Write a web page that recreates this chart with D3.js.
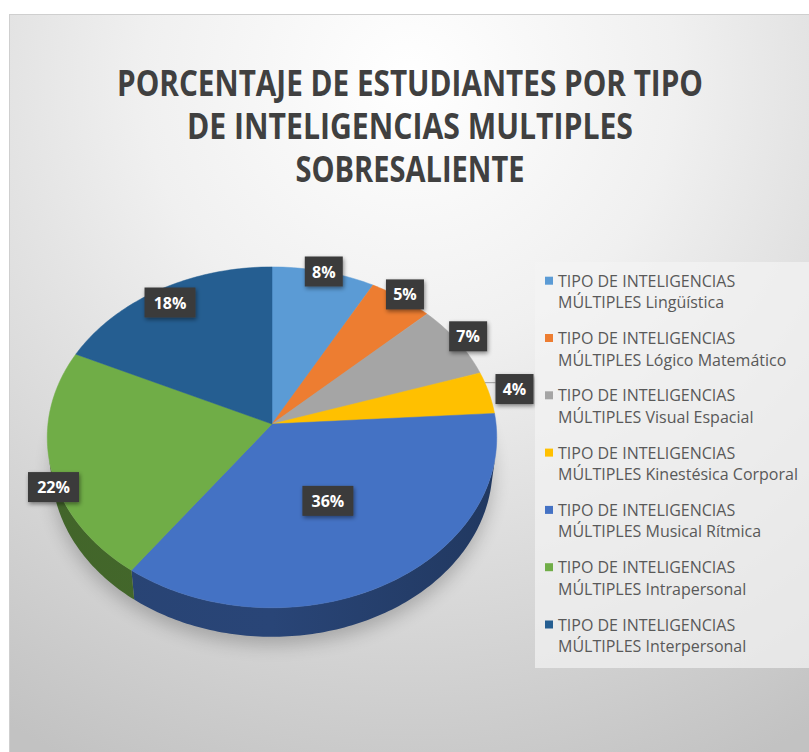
<!DOCTYPE html>
<html>
<head>
<meta charset="utf-8">
<script src="https://cdn.jsdelivr.net/npm/d3@7"></script>
<style>
  html, body { margin: 0; padding: 0; background: #fff; }
  svg { display: block; }
</style>
</head>
<body>
<svg id="svg"></svg>
<script>
// ---- data ----
const titleLines = ["PORCENTAJE DE ESTUDIANTES POR TIPO", "DE INTELIGENCIAS MULTIPLES", "SOBRESALIENTE"];
const legendPrefix = "TIPO DE INTELIGENCIAS";
const categories = ["MÚLTIPLES Lingüística", "MÚLTIPLES Lógico Matemático", "MÚLTIPLES Visual Espacial",
    "MÚLTIPLES Kinestésica Corporal", "MÚLTIPLES Musical Rítmica", "MÚLTIPLES Intrapersonal", "MÚLTIPLES Interpersonal"];
const percentages = [8, 5, 7, 4, 36, 22, 18];
const colors = ["#5B9BD5", "#ED7D31", "#A5A5A5", "#FFC000", "#4472C4", "#70AD47", "#255E91"];

// label placement (radius factor, height below top face) for each slice
const labelRadius = [1.0, 1.03, 1.06, 1.12, 0.5, 1.0, 0.9];
const labelDrop = [0, 0, 0, 0, 0, 0.14, 0];

const W = 809, H = 752;
const svg = d3.select("#svg").attr("width", W).attr("height", H);
const defs = svg.append("defs");

// background of the chart area
const bg = defs.append("radialGradient").attr("id", "bg")
    .attr("gradientUnits", "userSpaceOnUse")
    .attr("cx", 410).attr("cy", 80).attr("r", 760);
bg.append("stop").attr("offset", 0).attr("stop-color", "#ffffff");
bg.append("stop").attr("offset", 0.35).attr("stop-color", "#f0f0f0");
bg.append("stop").attr("offset", 1).attr("stop-color", "#c2c2c2");

svg.append("rect").attr("x", 9.5).attr("y", 14.5).attr("width", 830).attr("height", 760)
    .attr("fill", "url(#bg)").attr("stroke", "#cfcfcf");

// title
const title = svg.append("g").attr("fill", "#404040")
    .style("font-family", "'Open Sans', sans-serif").style("font-weight", 700).style("font-size", "35px");
const titleBase = [96, 139, 182];
const titleWidth = [586, 446, 229];
titleLines.forEach((t, i) => {
    title.append("text").attr("x", 410).attr("y", titleBase[i]).attr("text-anchor", "middle")
        .attr("textLength", titleWidth[i]).attr("lengthAdjust", "spacingAndGlyphs").text(t);
});

// ---- 3D pie projection ----
const cx = 272, cy = 424, k = 1873, dist = 8.36;
const sp = 0.756, cp = Math.sqrt(1 - sp * sp);
const thick = 0.21;

// angle a measured clockwise from the back of the pie (12 o'clock)
function project(a, r, y) {
    const X = r * Math.sin(a), Z = -r * Math.cos(a);
    const depth = dist - Z * cp - y * sp;
    return [cx + X * k / depth, cy + (Z * sp - y * cp) * k / depth];
}

function rim(a0, a1, r, y) {
    const n = Math.max(2, Math.ceil(Math.abs(a1 - a0) / (Math.PI / 180)));
    return d3.range(n + 1).map(i => project(a0 + (a1 - a0) * i / n, r, y));
}

const arcs = d3.pie().sort(null).value(d => d)(percentages);
const line = d3.line();

// side is visible only between these angles
const aVis = Math.acos(-1 / (dist * cp));
const sideMin = aVis, sideMax = 2 * Math.PI - aVis;

// shadow below the pie
const shadowF = defs.append("filter").attr("id", "pieShadow")
    .attr("x", "-20%").attr("y", "-20%").attr("width", "140%").attr("height", "140%");
shadowF.append("feGaussianBlur").attr("stdDeviation", 9);
svg.append("path")
    .attr("d", line(rim(0, 2 * Math.PI, 1.0, -thick)) + "Z")
    .attr("transform", "translate(0,8)")
    .attr("fill", "#000").attr("opacity", 0.22)
    .attr("filter", "url(#pieShadow)");

const pie = svg.append("g");

// side faces
arcs.forEach((d, i) => {
    const a0 = Math.max(d.startAngle, sideMin), a1 = Math.min(d.endAngle, sideMax);
    if (a1 <= a0) return;
    const g = defs.append("linearGradient").attr("id", "side" + i)
        .attr("gradientUnits", "userSpaceOnUse")
        .attr("x1", cx - 225).attr("x2", cx + 225).attr("y1", 0).attr("y2", 0);
    const c = d3.color(colors[i]);
    g.append("stop").attr("offset", 0).attr("stop-color", c.darker(1.5));
    g.append("stop").attr("offset", 0.5).attr("stop-color", c.darker(1.4));
    g.append("stop").attr("offset", 1).attr("stop-color", c.darker(2.0));
    const pts = rim(a0, a1, 1, 0).concat(rim(a1, a0, 1, -thick));
    pie.append("path").attr("d", line(pts) + "Z")
        .attr("fill", "url(#side" + i + ")");
});

// top faces
arcs.forEach((d, i) => {
    const pts = [project(0, 0, 0)].concat(rim(d.startAngle, d.endAngle, 1, 0));
    pie.append("path").attr("d", line(pts) + "Z")
        .attr("fill", colors[i])
        .attr("stroke", colors[i]).attr("stroke-width", 0.5);
});

// ---- data labels ----
const lblShadow = defs.append("filter").attr("id", "lblShadow")
    .attr("x", "-30%").attr("y", "-30%").attr("width", "160%").attr("height", "160%");
lblShadow.append("feDropShadow").attr("dx", 1).attr("dy", 2).attr("stdDeviation", 2)
    .attr("flood-color", "#000").attr("flood-opacity", 0.45);

const labels = svg.append("g")
    .style("font-family", "'Open Sans', sans-serif").style("font-weight", 700).style("font-size", "16px");

arcs.forEach((d, i) => {
    const mid = (d.startAngle + d.endAngle) / 2;
    const [x, y] = project(mid, labelRadius[i], -labelDrop[i]);
    const txt = d3.format(".0%")(percentages[i] / 100);
    const w = txt.length === 3 ? 51 : 38, h = 30;
    if (labelRadius[i] > 1.1) {
        const p = project(d.startAngle + 0.25 * (d.endAngle - d.startAngle), 1, 0);
        labels.append("line").attr("x1", p[0]).attr("y1", p[1])
            .attr("x2", x - w / 2).attr("y2", p[1])
            .attr("stroke", "#9a9a9a").attr("stroke-width", 1);
    }
    labels.append("rect").attr("x", x - w / 2).attr("y", y - h / 2)
        .attr("width", w).attr("height", h)
        .attr("fill", "#3b3b3b").attr("filter", "url(#lblShadow)");
    labels.append("text").attr("x", x).attr("y", y + 6)
        .attr("text-anchor", "middle").attr("fill", "#ffffff").text(txt);
});

// ---- legend ----
const legend = svg.append("g");
legend.append("rect").attr("x", 535).attr("y", 262).attr("width", 300).attr("height", 406)
    .attr("fill", "#f4f4f4").attr("opacity", 0.7);

const legendItem = legend.selectAll("g.item").data(categories).enter().append("g")
    .attr("class", "item")
    .attr("transform", (d, i) => "translate(545," + (286.7 + i * 57.3) + ")");
legendItem.append("rect").attr("x", 0).attr("y", -10).attr("width", 8).attr("height", 8)
    .attr("fill", (d, i) => colors[i]);
const legendText = legendItem.append("text").attr("fill", "#595959")
    .style("font-family", "'Open Sans', sans-serif").style("font-size", "16px");
legendText.append("tspan").attr("x", 13).attr("y", 0).text(legendPrefix);
legendText.append("tspan").attr("x", 13).attr("y", 21.6).text(d => d);
</script>
</body>
</html>
